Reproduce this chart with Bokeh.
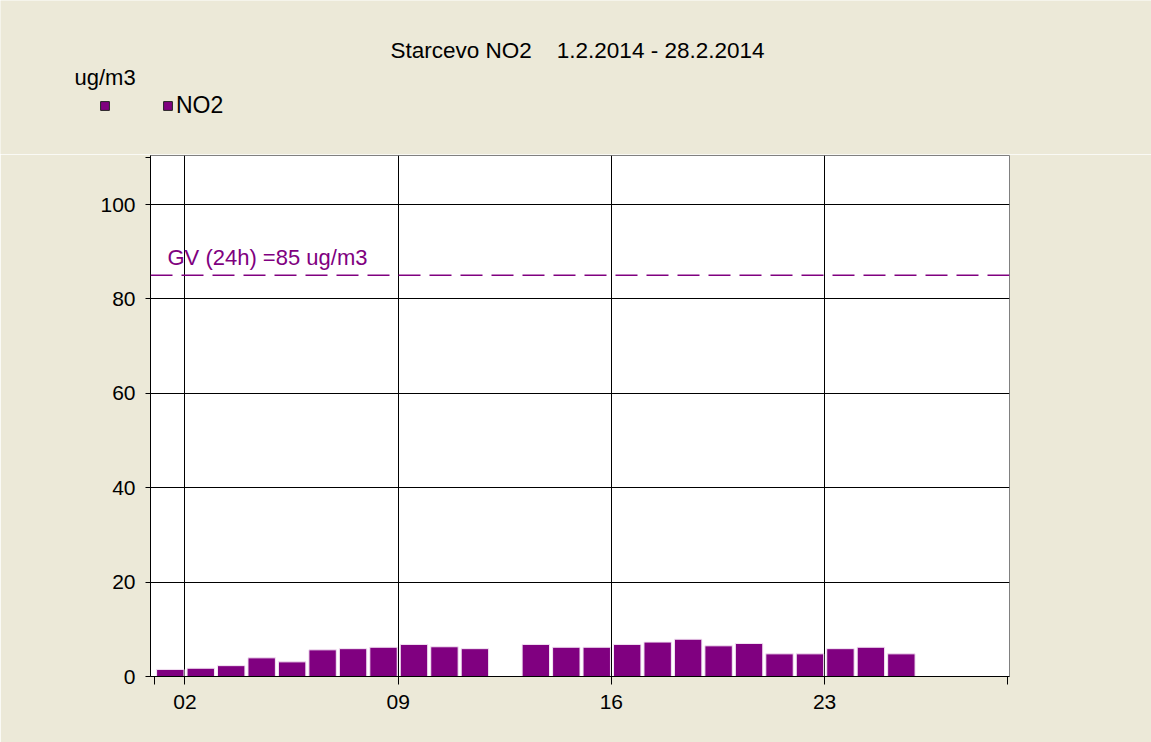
from bokeh.plotting import figure
from bokeh.layouts import column
from bokeh.models import (Range1d, FixedTicker, Span, Label, Legend, LegendItem,
                          ColumnDataSource)
from bokeh.embed import file_html
from bokeh.resources import INLINE

# ---- data ----
days = [1, 2, 3, 4, 5, 6, 7, 8, 9, 10, 11, 13, 14, 15, 16, 17, 18, 19, 20, 21, 22, 23, 24, 25]
no2 = [1.5, 1.75, 2.3, 3.95, 3.1, 5.65, 5.9, 6.2, 6.8, 6.3, 5.9, 6.8, 6.2, 6.2, 6.8, 7.3, 7.9,
       6.5, 7.0, 4.8, 4.8, 5.9, 6.2, 4.8]
x_ticks = [1, 2, 9, 16, 23, 29]
x_tick_labels = {1: "", 2: "02", 9: "09", 16: "16", 23: "23", 29: ""}
y_ticks = [0, 20, 40, 60, 80, 100, 110]
limit_value = 85
limit_text = "GV (24h) =85 ug/m3"
title_text = "Starcevo NO2\u00a0\u00a0\u00a0\u00a01.2.2014 - 28.2.2014"
unit_text = "ug/m3"
series_name = "NO2"

PURPLE = "#800080"
BG = "#ECE9D8"
FONT = "Liberation Sans"
W = 1151
TOP_H = 154
MAIN_H = 588

# ---- header figure (title, unit, legend) ----
head = figure(width=W, height=TOP_H, output_backend="svg", toolbar_location=None,
              x_range=Range1d(0, W), y_range=Range1d(0, TOP_H),
              min_border=0, min_border_left=0, min_border_right=0,
              min_border_top=0, min_border_bottom=0)
head.axis.visible = False
head.grid.visible = False
head.outline_line_color = None
head.background_fill_color = BG
head.border_fill_color = BG

head.add_layout(Label(x=577, y=104, x_units="screen", y_units="screen", text=title_text,
                      text_font=FONT, text_font_size="22.5px", text_color="black",
                      text_align="center", text_baseline="alphabetic"))
head.add_layout(Label(x=74, y=77, x_units="screen", y_units="screen", text=unit_text,
                      text_font=FONT, text_font_size="22px", text_color="black",
                      text_baseline="alphabetic"))

# swatch renderer for the legend (zero height, outside the visible header area)
swatch = head.vbar(x=[-W], top=[0], bottom=0, width=1, fill_color=PURPLE,
                   line_color="#222222", line_width=1)
legend = Legend(items=[LegendItem(label=" ", renderers=[swatch]),
                       LegendItem(label=series_name, renderers=[swatch])],
                location=(99, 35), orientation="horizontal",
                glyph_width=11, glyph_height=11, label_standoff=3,
                label_width=44, spacing=5, padding=0, margin=0,
                border_line_color=None, background_fill_alpha=0,
                label_text_font=FONT, label_text_font_size="23px",
                label_text_color="black")
head.add_layout(legend, "center")

# ---- main chart ----
p = figure(width=W, height=MAIN_H, output_backend="svg", toolbar_location=None,
           x_range=Range1d(0.87, 29.07), y_range=Range1d(0, 110.4),
           min_border_left=150, min_border_right=142, min_border_top=1,
           min_border_bottom=66)
p.background_fill_color = "white"
p.border_fill_color = BG
p.outline_line_color = "#808080"

for fig in (head, p):
    try:
        fig.frame_align = False
    except Exception:
        pass

src = ColumnDataSource(dict(x=[d + 0.52 for d in days], top=no2))
p.vbar(x="x", top="top", width=0.9, bottom=0, source=src,
       fill_color=PURPLE, line_color="#f4e6f4", line_width=1)

for ax in (p.xaxis[0], p.yaxis[0]):
    ax.axis_line_color = "black"
    ax.major_tick_line_color = "black"
    ax.minor_tick_line_color = None
    ax.major_label_text_font = FONT
    ax.major_label_text_font_size = "21px"
    ax.major_label_text_color = "black"
    ax.major_tick_in = 0

p.xaxis[0].ticker = FixedTicker(ticks=x_ticks)
p.xaxis[0].major_label_overrides = x_tick_labels
p.xaxis[0].major_tick_out = 8
p.xaxis[0].major_label_standoff = 10

p.yaxis[0].ticker = FixedTicker(ticks=y_ticks)
p.yaxis[0].major_label_overrides = {110: ""}
p.yaxis[0].major_tick_out = 5
p.yaxis[0].major_label_standoff = 10

p.xgrid[0].ticker = FixedTicker(ticks=[2, 9, 16, 23])
p.ygrid[0].ticker = FixedTicker(ticks=[20, 40, 60, 80, 100])
for g in (p.xgrid[0], p.ygrid[0]):
    g.grid_line_color = "black"
    g.grid_line_width = 1

p.add_layout(Span(location=limit_value, dimension="width", line_color=PURPLE,
                  line_dash="22 9", line_width=1.5))
p.add_layout(Label(x=17, y=419, x_units="screen", y_units="screen", text=limit_text,
                   text_font=FONT, text_font_size="22px", text_color=PURPLE,
                   text_baseline="alphabetic"))

layout = column(head, p, spacing=0)
html = file_html(layout, INLINE)
html = html.replace("<body>", '<body style="background-color:%s;">' % BG, 1)
open("out.html", "w").write(html)
